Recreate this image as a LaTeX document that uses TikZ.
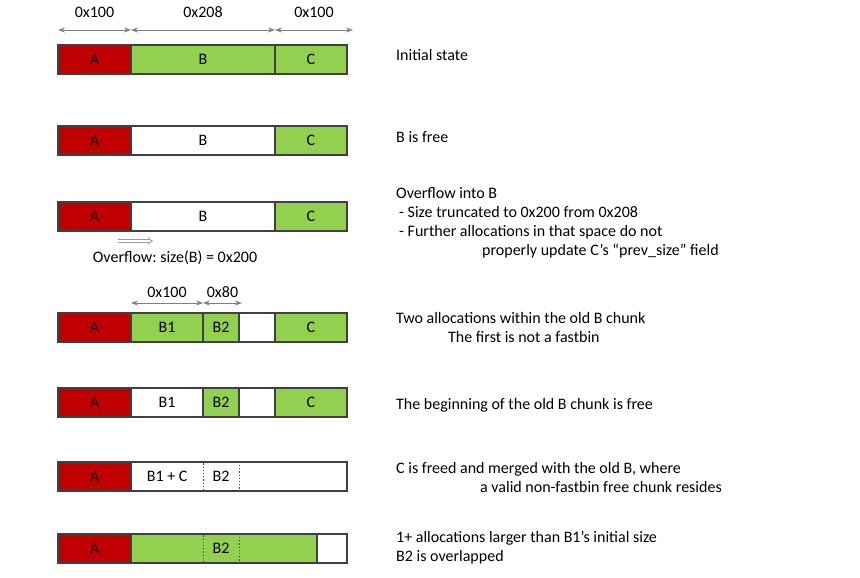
\documentclass[tikz,border=0pt]{standalone}
\usepackage{fontspec}
\setmainfont{Carlito}
\usetikzlibrary{positioning,arrows.meta}
\definecolor{chunkred}{HTML}{C00000}
\definecolor{chunkgreen}{HTML}{92D050}
\definecolor{chunkline}{HTML}{404040}
\definecolor{dimgray}{HTML}{7F7F7F}
\frenchspacing

\begin{document}
\begin{tikzpicture}[x=1pt,y=-1pt,node distance=0pt,
                    font=\fontsize{16}{19}\selectfont]
  \tikzstyle{chunk}=[draw=chunkline,line width=1.2pt,minimum height=29pt,
                     inner sep=0pt,outer sep=0pt]
  \tikzstyle{used}=[chunk,fill=chunkgreen]
  \tikzstyle{freed}=[chunk,fill=white]
  \tikzstyle{owner}=[chunk,fill=chunkred,minimum width=73pt,anchor=north west]
  \tikzstyle{overlap}=[chunk,dotted,fill=none,line width=0.9pt,minimum width=36pt]
  \tikzstyle{dim}=[draw=dimgray,line width=0.8pt,
                   {Stealth[length=7pt,width=5pt]}-{Stealth[length=7pt,width=5pt]}]
  \tikzstyle{note}=[align=left,inner sep=0pt]

  \useasboundingbox (0,0) rectangle (860,578);

  % initial state
  \node[owner]                         (a1) at (58,45)     {A};
  \node[used,minimum width=144pt]      (b1) [right=of a1]  {B};
  \node[used,minimum width=72pt]       (c1) [right=of b1]  {C};
  \draw[dim] ([yshift=15pt]a1.north west) -- node[above=9pt] {0x100} ([yshift=15pt]a1.north east);
  \draw[dim] ([yshift=15pt]b1.north west) -- node[above=9pt] {0x208} ([yshift=15pt]b1.north east);
  \draw[dim] ([yshift=15pt]c1.north west) -- node[above=9pt] {0x100} ([xshift=6pt,yshift=15pt]c1.north east);
  \node[note] (s1) [right=49pt of c1,yshift=4pt] {Initial state};

  % B is free
  \node[owner]                         (a2) at (58,126)    {A};
  \node[freed,minimum width=144pt]     (b2) [right=of a2]  {B};
  \node[used,minimum width=72pt]       (c2) [right=of b2]  {C};
  \node[note] (s2) [right=49pt of c2,yshift=3pt] {B is free};

  % overflow into B
  \node[owner]                         (a3) at (58,202)    {A};
  \node[freed,minimum width=144pt]     (b3) [right=of a3]  {B};
  \node[used,minimum width=72pt]       (c3) [right=of b3]  {C};
  \draw[draw=dimgray!80,double,double distance=1.8pt,line width=0.7pt,-{Implies}]
        ([xshift=-13pt,yshift=-10pt]a3.south east) -- ([xshift=22pt,yshift=-10pt]a3.south east);
  \node (ovf) at ([xshift=44pt,yshift=-27pt]a3.south east) {Overflow: size(B) = 0x200};
  \node[note] (s3) [right=49pt of c3,yshift=-6pt]
        {Overflow into B\\
         \hspace*{3pt}- Size truncated to 0x200 from 0x208\\
         \hspace*{3pt}- Further allocations in that space do not\\
         \hspace*{86pt}properly update C’s “prev\_size” field};

  % two allocations
  \node[owner]                         (a4) at (58,313)    {A};
  \node[used,minimum width=72pt]       (b41) [right=of a4] {B1};
  \node[used,minimum width=36pt]       (b42) [right=of b41] {B2};
  \node[freed,minimum width=36pt]      (f4) [right=of b42] {};
  \node[used,minimum width=72pt]       (c4) [right=of f4]  {C};
  \draw[dim] ([yshift=10pt]b41.north west) -- node[above=2pt] {0x100} ([yshift=10pt]b41.north east);
  \draw[dim] ([yshift=10pt]b42.north west) -- node[above=2pt] {0x80} ([xshift=3pt,yshift=10pt]b42.north east);
  \node[note] (s4) [right=49pt of c4]
        {Two allocations within the old B chunk\\
         \hspace*{52pt}The first is not a fastbin};

  % B1 freed
  \node[owner]                         (a5) at (58,388)    {A};
  \node[freed,minimum width=72pt]      (b51) [right=of a5] {B1};
  \node[used,minimum width=36pt]       (b52) [right=of b51] {B2};
  \node[freed,minimum width=36pt]      (f5) [right=of b52] {};
  \node[used,minimum width=72pt]       (c5) [right=of f5]  {C};
  \node[note] (s5) [right=49pt of c5,yshift=-3pt] {The beginning of the old B chunk is free};

  % C merged
  \node[owner]                         (a6) at (58,462)    {A};
  \node[freed,minimum width=216pt]     (f6) [right=of a6]  {};
  \node[minimum width=72pt,inner sep=0pt] (l6) [right=of a6] {B1 + C};
  \node[overlap]                       (d6) [right=72pt of a6] {B2};
  \node[note] (s6) [right=49pt of f6,yshift=-1pt]
        {C is freed and merged with the old B, where\\
         \hspace*{84pt}a valid non-fastbin free chunk resides};

  % overlapping allocation
  \node[owner]                         (a7) at (58,534)    {A};
  \node[used,minimum width=186pt]      (g7) [right=of a7]  {};
  \node[freed,minimum width=30pt]      (w7) [right=of g7]  {};
  \node[overlap]                       (d7) [right=72pt of a7] {B2};
  \node[note] (s7) [right=49pt of w7,yshift=1pt]
        {1+ allocations larger than B1’s initial size\\
         B2 is overlapped};
\end{tikzpicture}
\end{document}
